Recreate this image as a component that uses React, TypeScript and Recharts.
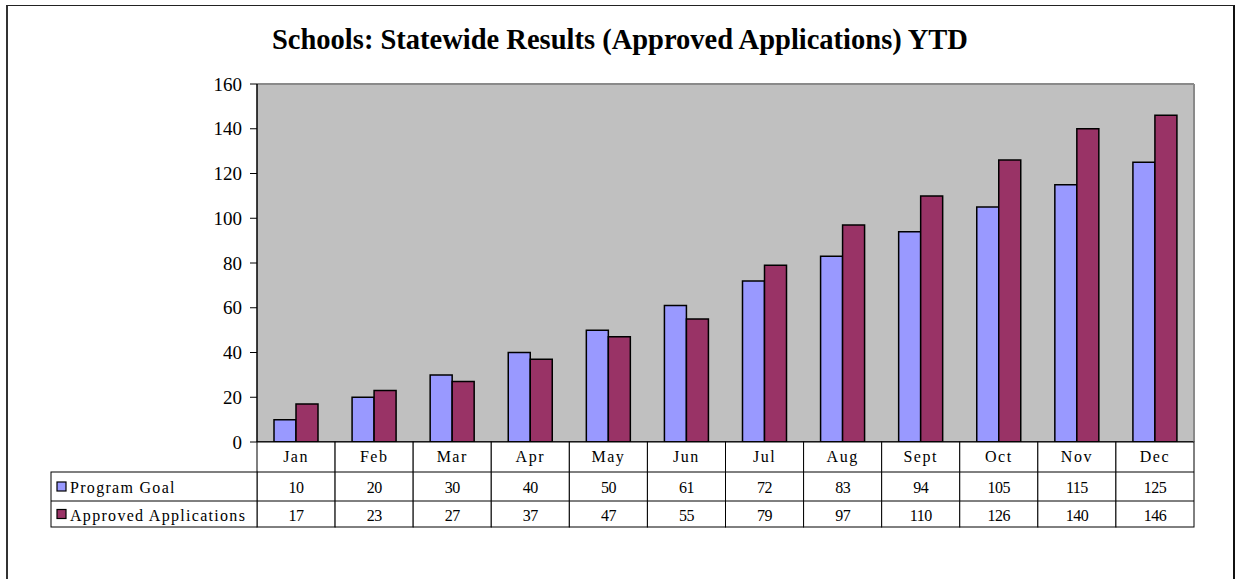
import { BarChart, Bar, XAxis, YAxis, CartesianGrid } from 'recharts';

const months = ['Jan', 'Feb', 'Mar', 'Apr', 'May', 'Jun', 'Jul', 'Aug', 'Sept', 'Oct', 'Nov', 'Dec'];
const programGoal = [10, 20, 30, 40, 50, 61, 72, 83, 94, 105, 115, 125];
const approvedApplications = [17, 23, 27, 37, 47, 55, 79, 97, 110, 126, 140, 146];
const yTicks = [0, 20, 40, 60, 80, 100, 120, 140, 160];

const GOAL_COLOR = '#9999FF';
const APPROVED_COLOR = '#993366';
const FONT = '"Liberation Serif", "Times New Roman", serif';

const data = months.map((month, i) => ({
  month,
  goal: programGoal[i],
  approved: approvedApplications[i],
}));

const legendRows = [
  { label: 'Program Goal', color: GOAL_COLOR, values: programGoal },
  { label: 'Approved Applications', color: APPROVED_COLOR, values: approvedApplications },
];

// row heights of the data table under the plot
const ROW1 = 30;
const ROW2 = 29;
const ROW3 = 26;
const LABEL_COL = 206;

// each x tick draws one column of the data table
function TableTick(props: any) {
  const { x, y, payload, index } = props;
  const half = payload?.offset ?? 39;
  const left = x - half;
  const w = half * 2;
  const total = ROW1 + ROW2 + ROW3;
  const textStyle = { fontFamily: FONT, fontSize: 16, fill: '#000' };

  return (
    <g>
      <rect x={left} y={y} width={w} height={total} fill="#fff" stroke="#000" strokeWidth={1} />
      <line x1={left} x2={left + w} y1={y + ROW1} y2={y + ROW1} stroke="#000" />
      <line x1={left} x2={left + w} y1={y + ROW1 + ROW2} y2={y + ROW1 + ROW2} stroke="#000" />
      <text x={x} y={y + 20} textAnchor="middle" letterSpacing={1.5} style={textStyle}>
        {payload.value}
      </text>
      {legendRows.map((r, i) => (
        <text
          key={r.label}
          x={x}
          y={y + (i === 0 ? 51 : 79)}
          textAnchor="middle"
          letterSpacing={-0.5}
          style={textStyle}
        >
          {r.values[index]}
        </text>
      ))}
      {index === 0 && (
        <g>
          <rect x={left - LABEL_COL} y={y + ROW1} width={LABEL_COL} height={ROW2 + ROW3} fill="#fff" stroke="#000" />
          <line x1={left - LABEL_COL} x2={left} y1={y + ROW1 + ROW2} y2={y + ROW1 + ROW2} stroke="#000" />
          {legendRows.map((r, i) => {
            const cy = i === 0 ? y + ROW1 + ROW2 / 2 : y + ROW1 + ROW2 + ROW3 / 2;
            return (
              <g key={r.label}>
                <rect x={left - LABEL_COL + 6} y={cy - 4.5} width={9} height={9} fill={r.color} stroke="#000" strokeWidth={1.2} />
                <text x={left - LABEL_COL + 19} y={i === 0 ? y + 51 : y + 79} letterSpacing={1.3} style={textStyle}>
                  {r.label}
                </text>
              </g>
            );
          })}
        </g>
      )}
    </g>
  );
}

export default function App() {
  return (
    <div style={{ position: 'absolute', left: 0, top: 0, width: 1235, height: 579, background: '#fff', overflow: 'hidden' }}>
      <div
        style={{
          position: 'absolute', left: 6, top: 5, width: 1225, height: 600,
          borderLeft: '2px solid #333', borderTop: '1px solid #222', borderRight: '2px solid #111',
        }}
      />
      <div
        style={{
          position: 'absolute', left: 0, top: 25, width: 1240, textAlign: 'center',
          fontFamily: FONT, fontWeight: 'bold', fontSize: 28.5, lineHeight: '29px', color: '#000',
        }}
      >
        Schools: Statewide Results (Approved Applications) YTD
      </div>
      <div style={{ position: 'absolute', left: 0, top: 0 }}>
        <BarChart
          width={1235}
          height={579}
          data={data}
          margin={{ top: 83, right: 40, bottom: 52, left: 197 }}
          barGap={0}
          barSize={22}
        >
          <CartesianGrid fill="#C0C0C0" horizontal={false} vertical={false} />
          <XAxis
            dataKey="month"
            height={85}
            interval={0}
            tickLine={false}
            tickSize={0}
            tickMargin={0}
            axisLine={{ stroke: '#000', strokeWidth: 1.5 }}
            tick={<TableTick />}
          />
          <XAxis
            xAxisId="top"
            dataKey="month"
            orientation="top"
            height={1}
            tick={false}
            tickLine={false}
            axisLine={{ stroke: '#8a8a8a', strokeWidth: 2 }}
          />
          <YAxis
            width={60}
            domain={[0, 160]}
            ticks={yTicks}
            interval={0}
            tickSize={7}
            tickMargin={8}
            tickLine={{ stroke: '#000' }}
            axisLine={{ stroke: '#000', strokeWidth: 1.5 }}
            tick={{ fontFamily: FONT, fontSize: 19, fill: '#000' }}
          />
          <YAxis
            yAxisId="right"
            orientation="right"
            width={1}
            domain={[0, 160]}
            tick={false}
            tickLine={false}
            axisLine={{ stroke: '#8a8a8a', strokeWidth: 2 }}
          />
          <Bar dataKey="goal" name="Program Goal" fill={GOAL_COLOR} stroke="#000" strokeWidth={1.5} isAnimationActive={false} />
          <Bar dataKey="approved" name="Approved Applications" fill={APPROVED_COLOR} stroke="#000" strokeWidth={1.5} isAnimationActive={false} />
        </BarChart>
      </div>
    </div>
  );
}
